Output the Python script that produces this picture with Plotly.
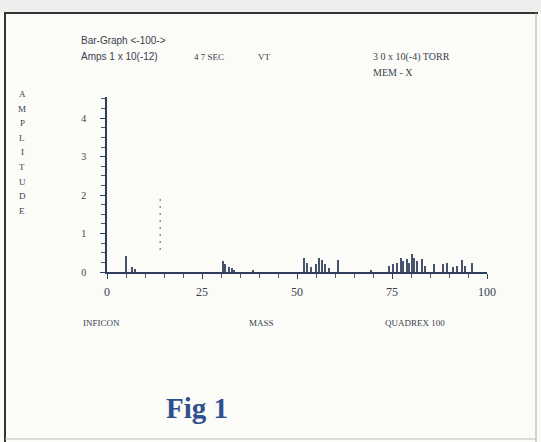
import plotly.graph_objects as go

# ---- data ----
masses = [5, 6.5, 7.5, 30.6, 31.1, 32, 32.9, 33.5, 38.5,
          51.8, 52.6, 53.8, 55, 55.9, 56.5, 57.3, 58.4, 60.9, 69.5,
          74.1, 75.2, 76.2, 77.3, 78, 78.9, 79.6, 80.4, 80.8, 81.7, 82.8, 83.7,
          86.1, 88.3, 89.6, 91, 92, 93.3, 94.2, 96]
amps = [0.42, 0.14, 0.08, 0.28, 0.22, 0.13, 0.1, 0.05, 0.05,
        0.36, 0.24, 0.14, 0.2, 0.37, 0.3, 0.2, 0.1, 0.3, 0.05,
        0.16, 0.2, 0.24, 0.37, 0.29, 0.33, 0.24, 0.47, 0.37, 0.29, 0.33, 0.16,
        0.2, 0.2, 0.24, 0.12, 0.16, 0.31, 0.16, 0.24]
marker_mass = [14, 14]
marker_amp = [0.57, 1.95]
x_ticks = [0, 25, 50, 75, 100]
y_ticks = [0, 1, 2, 3, 4]

W, H = 541, 442
L, R, T, B = 107, 487, 97, 272


def px(x):
    return (x - L) / (R - L)


def py(y):
    return (B - y) / (B - T)


ink = "#3a3f4c"
axis_col = "#2e3d5c"
serif = "Liberation Serif"

fig = go.Figure()
fig.add_trace(go.Bar(x=masses, y=amps, width=0.28,
                     marker=dict(color="#46526e", line=dict(width=0)),
                     showlegend=False, hoverinfo="skip"))
fig.add_trace(go.Scatter(x=marker_mass, y=marker_amp, mode="lines",
                         line=dict(color="#777777", width=1.2, dash="2px,5px"),
                         showlegend=False, hoverinfo="skip"))

fig.update_layout(
    width=W, height=H,
    margin=dict(l=L, r=W - R, t=T, b=H - B),
    paper_bgcolor="#fbfbf8", plot_bgcolor="rgba(0,0,0,0)",
    bargap=0,
    xaxis=dict(range=[0, 100], tickvals=x_ticks, ticktext=["0", "25", "50", "75", "100"],
               showline=True, linecolor=axis_col, linewidth=1.5,
               ticks="outside", ticklen=5, tickcolor=axis_col,
               minor=dict(dtick=5, ticks="outside", ticklen=4, tickcolor="#556"),
               showgrid=False, zeroline=False,
               tickfont=dict(family=serif, size=12, color=ink),
               ticklabelstandoff=3, fixedrange=True),
    yaxis=dict(range=[0, 4.55], tickvals=y_ticks,
               showline=True, linecolor=axis_col, linewidth=1.5,
               ticks="outside", ticklen=5, tickcolor=axis_col,
               minor=dict(dtick=0.25, ticks="outside", ticklen=4, tickcolor="#556"),
               showgrid=False, zeroline=False,
               tickfont=dict(family=serif, size=10, color=ink),
               ticklabelstandoff=12, fixedrange=True),
)

anns = []


def txt(x, y, s, size=10, family=serif, anchor="left", color=ink, bold=False):
    anns.append(dict(x=px(x), y=py(y), xref="paper", yref="paper", text=("<b>%s</b>" % s) if bold else s,
                     showarrow=False, xanchor=anchor, yanchor="middle",
                     font=dict(family=family, size=size, color=color)))


txt(79, 41, "Bar-Graph &lt;-100-&gt;", size=10, family="Liberation Sans")
txt(79, 57, "Amps 1 x 10(-12)", size=10, family="Liberation Sans")
txt(192, 57, "4 7 SEC", size=9)
txt(256, 57, "VT", size=9)
txt(371, 57, "3 0 x 10(-4) TORR", size=10)
txt(371, 73, "MEM - X", size=10)
for i, ch in enumerate("AMPLITUDE"):
    txt(22, 94 + i * 14.6, ch, size=9, anchor="center")
txt(81, 323, "INFICON", size=9)
txt(247, 323, "MASS", size=9)
txt(383, 323, "QUADREX 100", size=9)
txt(197, 408, "Fig 1", size=29, anchor="center", color="#2f4f8f", bold=True)
fig.update_layout(annotations=anns)

shapes = [
    dict(type="rect", xref="paper", yref="paper", x0=px(0), x1=px(W), y0=py(0), y1=py(12),
         fillcolor="#eeeeec", line=dict(width=0), layer="below"),
    dict(type="line", xref="paper", yref="paper", x0=px(4), x1=px(538), y0=py(13), y1=py(13),
         line=dict(color="#333", width=2)),
    dict(type="line", xref="paper", yref="paper", x0=px(5), x1=px(5), y0=py(13), y1=py(442),
         line=dict(color="#333", width=2)),
    dict(type="line", xref="paper", yref="paper", x0=px(536), x1=px(536), y0=py(13), y1=py(442),
         line=dict(color="#aaa", width=1)),
    dict(type="line", xref="paper", yref="paper", x0=px(5), x1=px(536), y0=py(439), y1=py(439),
         line=dict(color="#bbb", width=1)),
]
fig.update_layout(shapes=shapes)

fig.write_html("out.html", config={"displayModeBar": False},
               post_script="document.body.style.margin='0';document.body.style.overflow='hidden';")
